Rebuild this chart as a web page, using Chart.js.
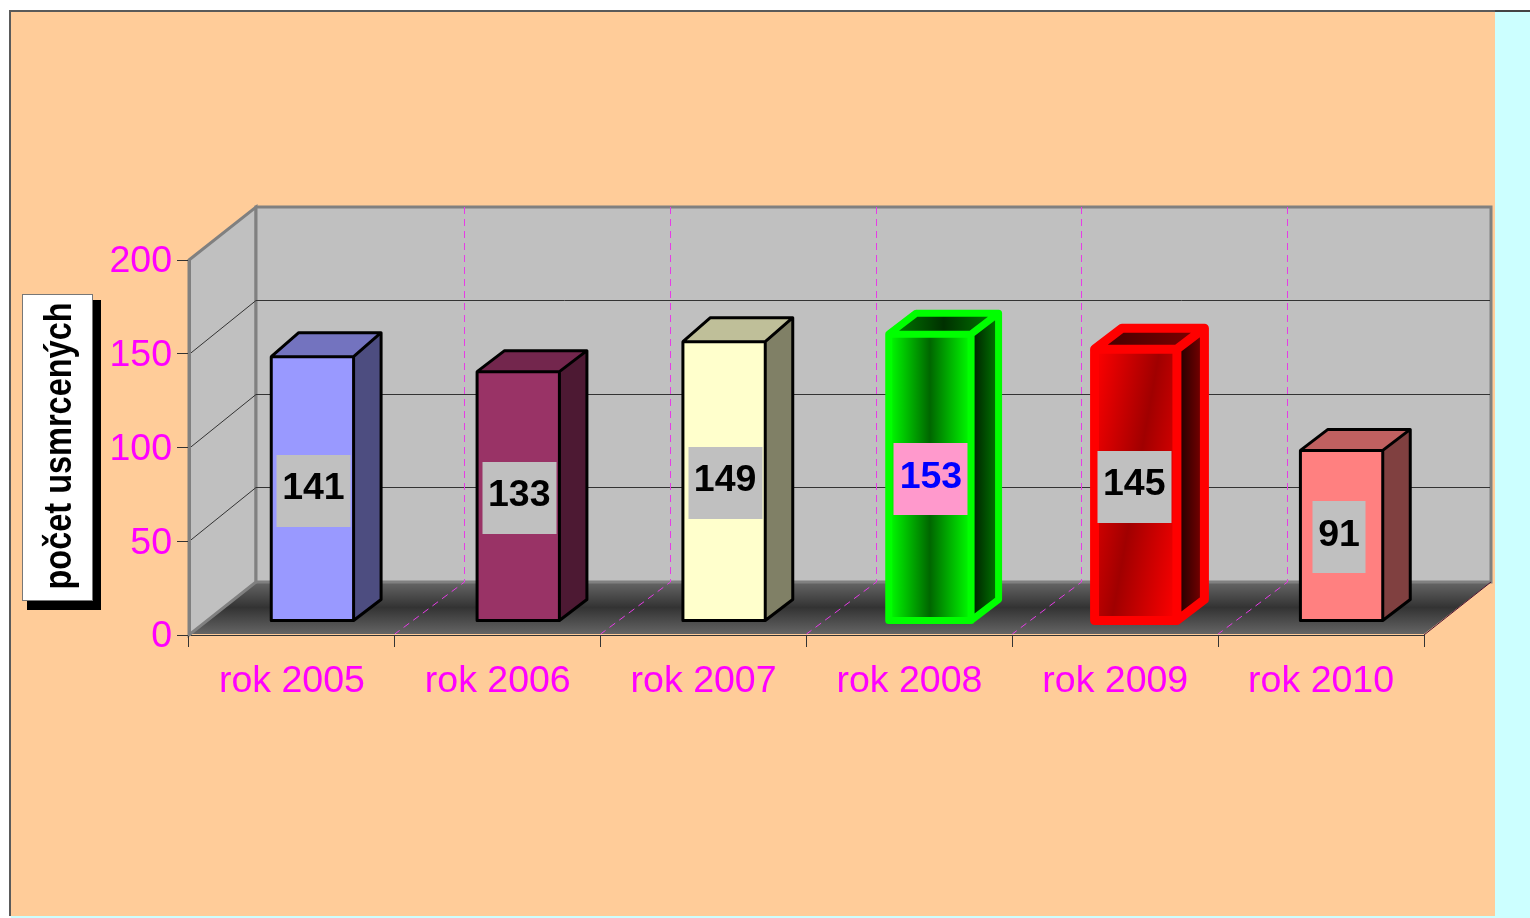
<!DOCTYPE html>
<html>
<head>
<meta charset="utf-8">
<style>
  html, body { margin: 0; height: 100%; background: #fff; overflow: hidden; }
  #sheet { position: absolute; left: 9px; top: 10px; width: 1486px; height: 906px; background: #ffcc99; border-top: 2px solid #5a5a5a; border-left: 2px solid #5a5a5a; box-sizing: border-box; }
  #side { position: absolute; left: 1495px; top: 10px; width: 35px; height: 908px; background: #ccffff; border-top: 2px solid #444; box-sizing: border-box; }
  #foot { position: absolute; left: 11px; top: 916px; width: 1484px; height: 2px; background: #ccffff; }
  #chart { position: absolute; left: 0; top: 0; }
</style>
</head>
<body>
<div id="sheet"></div>
<div id="side"></div>
<div id="foot"></div>
<canvas id="chart" width="1530" height="918"></canvas>
<script src="https://cdn.jsdelivr.net/npm/chart.js@4"></script>
<script>
const years = ['rok 2005', 'rok 2006', 'rok 2007', 'rok 2008', 'rok 2009', 'rok 2010']
const killed = [141, 133, 149, 153, 145, 91]
const yTicks = [0, 50, 100, 150, 200]
const axisTitle = 'počet usmrcených'

const FONT = '"Liberation Sans", Arial, sans-serif'
const MAGENTA = '#ff00ff'

// depth of the walls and where the bars stand on the floor
const WALL = { dx: 67, dy: -53 }
const BAR_SHIFT = { dx: 20.5, dy: -14 }
const BAR_DEPTH = { dx: 27.5, dy: -21 }

const looks = [
  { front: '#9999ff', side: '#4d4d80', top: '#7373bf', line: '#000', width: 3, rise: -24 },
  { front: '#993366', side: '#4d1933', top: '#73264d', line: '#000', width: 3 },
  { front: '#ffffcc', side: '#808066', top: '#bfbf99', line: '#000', width: 3, rise: -24 },
  { front: ['#00ff00', '#006600', '#00ff00'], side: ['#001a00', '#007a00'], top: ['#008000', '#003000', '#008000'], line: '#00ff00', width: 7, labelBg: '#ff99cc', labelColor: '#0000ff' },
  { front: ['#ff0000', '#a00000', '#ff0000'], slant: true, side: ['#1a0000', '#800000'], top: ['#400000', '#800000'], line: '#ff0000', width: 9, labelDx: -2.5 },
  { front: '#ff8080', side: '#804040', top: '#bf6060', line: '#000', width: 3 },
]

function paint(ctx, colors, x0, x1, y0 = 0, y1 = 0) {
  if (!Array.isArray(colors)) return colors
  const g = ctx.createLinearGradient(x0, y0, x1, y1)
  colors.forEach((c, i) => g.addColorStop(i / (colors.length - 1), c))
  return g
}

function poly(ctx, pts) {
  ctx.beginPath()
  pts.forEach((p, i) => (i ? ctx.lineTo(p[0], p[1]) : ctx.moveTo(p[0], p[1])))
  ctx.closePath()
}

const room = {
  id: 'room',
  beforeDraw(chart) {
    const { ctx, chartArea: a, scales: { x, y } } = chart
    ctx.save()

    // title box with its hard shadow
    ctx.fillStyle = '#000'
    ctx.fillRect(27, 300, 74, 310)
    ctx.fillStyle = '#fff'
    ctx.fillRect(22, 294, 70, 306)
    ctx.strokeStyle = '#777'
    ctx.lineWidth = 1
    ctx.strokeRect(22.5, 294.5, 70, 306)

    // squeezed bold title, the font alone is too wide at this height
    ctx.save()
    ctx.translate(71, 446)
    ctx.rotate(-Math.PI / 2)
    ctx.scale(0.855, 1)
    ctx.fillStyle = '#000'
    ctx.font = `bold 38px ${FONT}`
    ctx.textAlign = 'center'
    ctx.textBaseline = 'alphabetic'
    ctx.fillText(axisTitle, 0, 0)
    ctx.restore()

    // floor
    const bx0 = a.left + WALL.dx
    const bx1 = a.right + WALL.dx
    const by0 = a.top + WALL.dy
    const by1 = a.bottom + WALL.dy
    const fg = ctx.createLinearGradient(0, by1, 0, a.bottom)
    fg.addColorStop(0, '#666')
    fg.addColorStop(0.48, '#333')
    fg.addColorStop(1, '#666')
    poly(ctx, [[a.left, a.bottom - 1], [bx0, by1], [bx1, by1], [a.right, a.bottom - 1]])
    ctx.fillStyle = fg
    ctx.fill()

    // walls
    ctx.fillStyle = '#c0c0c0'
    ctx.strokeStyle = '#808080'
    ctx.lineWidth = 3
    poly(ctx, [[a.left, a.top], [bx0, by0], [bx0, by1], [a.left, a.bottom]])
    ctx.fill()
    ctx.stroke()
    ctx.beginPath()
    ctx.rect(bx0, by0, bx1 - bx0, by1 - by0)
    ctx.fill()
    ctx.stroke()

    // value grid, runs across the left wall and the back wall
    ctx.strokeStyle = '#333'
    ctx.lineWidth = 1
    yTicks.slice(1, -1).forEach((v) => {
      const py = Math.round(y.getPixelForValue(v)) + 0.5
      ctx.beginPath()
      ctx.moveTo(a.left, py)
      ctx.lineTo(bx0, py + WALL.dy - 1)
      ctx.lineTo(bx1 - 1, py + WALL.dy - 1)
      ctx.stroke()
    })

    // category dashes, up the back wall and across the floor
    ctx.strokeStyle = '#e63ce6'
    ctx.setLineDash([7, 5])
    for (let i = 1; i < years.length; i += 1) {
      const px = x.getPixelForTick(i) - x.width / years.length / 2
      const bx = Math.round(px + WALL.dx + 2) + 0.5
      ctx.beginPath()
      ctx.moveTo(bx, by0)
      ctx.lineTo(bx, by1)
      ctx.lineTo(px, a.bottom - 1)
      ctx.stroke()
    }
    ctx.setLineDash([])

    // right floor edge
    ctx.strokeStyle = '#4a1030'
    ctx.beginPath()
    ctx.moveTo(bx1, by1)
    ctx.lineTo(a.right, a.bottom)
    ctx.stroke()
    ctx.restore()
  },
  beforeDatasetDraw(chart) {
    chart.ctx.save()
    chart.ctx.translate(BAR_SHIFT.dx, BAR_SHIFT.dy)
  },
  afterDatasetDraw(chart, args) {
    const { ctx } = chart
    const bars = args.meta.data
    bars.forEach((bar, i) => {
      const look = looks[i]
      const { x, y, base, width } = bar.getProps(['x', 'y', 'base', 'width'], true)
      const l = x - width / 2
      const r = x + width / 2
      const d = BAR_DEPTH
      const topY = y + (look.rise || d.dy)

      poly(ctx, [[r, y], [r + d.dx, topY], [r + d.dx, base + d.dy], [r, base]])
      ctx.fillStyle = paint(ctx, look.side, r, r + d.dx)
      ctx.fill()
      poly(ctx, [[l, y], [l + d.dx, topY], [r + d.dx, topY], [r, y]])
      ctx.fillStyle = paint(ctx, look.top, l, r + d.dx)
      ctx.fill()

      ctx.strokeStyle = look.line
      ctx.lineWidth = look.width
      ctx.lineJoin = 'round'
      ctx.beginPath()
      ctx.rect(l, y, width, base - y)
      ctx.moveTo(l, y)
      ctx.lineTo(l + d.dx, topY)
      ctx.lineTo(r + d.dx, topY)
      ctx.lineTo(r + d.dx, base + d.dy)
      ctx.lineTo(r, base)
      ctx.moveTo(r, y)
      ctx.lineTo(r + d.dx, topY)
      ctx.stroke()
    })

    bars.forEach((bar, i) => {
      const look = looks[i]
      const { x, y, base } = bar.getProps(['x', 'y', 'base'], true)
      const text = String(killed[i])
      const boxW = text.length < 3 ? 53 : 74
      const cx = x + (text.length < 3 ? -2.5 : 1) + (look.labelDx || 0)
      const cy = (y + base) / 2 + 2
      ctx.fillStyle = look.labelBg || '#c0c0c0'
      ctx.fillRect(Math.round(cx - boxW / 2), Math.round(cy - 36), boxW, 72)
      ctx.fillStyle = look.labelColor || '#000'
      ctx.font = `bold 37.5px ${FONT}`
      ctx.textAlign = 'center'
      ctx.textBaseline = 'middle'
      ctx.fillText(text, cx, cy - 2)
    })
    ctx.restore()
  },
}

new Chart(document.getElementById('chart'), {
  type: 'bar',
  data: {
    labels: years,
    datasets: [
      {
        data: killed,
        clip: false,
        borderWidth: 0,
        barPercentage: 0.4,
        categoryPercentage: 1,
        backgroundColor(c) {
          const look = looks[c.dataIndex]
          if (!look) return '#000'
          const { x: bx, y: by } = c.chart.scales
          const mid = bx.getPixelForValue(c.dataIndex)
          const half = bx.width / years.length * 0.2
          if (look.slant) {
            const cy = (by.getPixelForValue(killed[c.dataIndex]) + by.getPixelForValue(0)) / 2
            return paint(c.chart.ctx, look.front, mid - 62, mid + 62, cy - 11, cy + 11)
          }
          return paint(c.chart.ctx, look.front, mid - half, mid + half)
        },
      },
    ],
  },
  options: {
    responsive: false,
    animation: false,
    events: [],
    layout: { padding: { top: 260, right: 106, left: 0, bottom: 0 } },
    plugins: { legend: { display: false }, tooltip: { enabled: false } },
    scales: {
      x: {
        afterFit(s) { s.height = 283 },
        grid: { drawOnChartArea: false, color: '#333', tickLength: 12, tickColor: '#333' },
        border: { color: '#333', width: 1 },
        ticks: { color: MAGENTA, padding: 12, maxRotation: 0, font: { family: FONT, size: 37.5 } },
      },
      y: {
        min: 0,
        max: 200,
        afterFit(s) { s.width = 189 },
        afterBuildTicks(s) { s.ticks = yTicks.map((value) => ({ value })) },
        grid: { drawOnChartArea: false, color: '#333', tickLength: 12, tickColor: '#333' },
        border: { color: '#808080', width: 3 },
        ticks: { color: MAGENTA, padding: 5, labelOffset: 2, font: { family: FONT, size: 37.5 } },
      },
    },
  },
  plugins: [room],
})
</script>
</body>
</html>
